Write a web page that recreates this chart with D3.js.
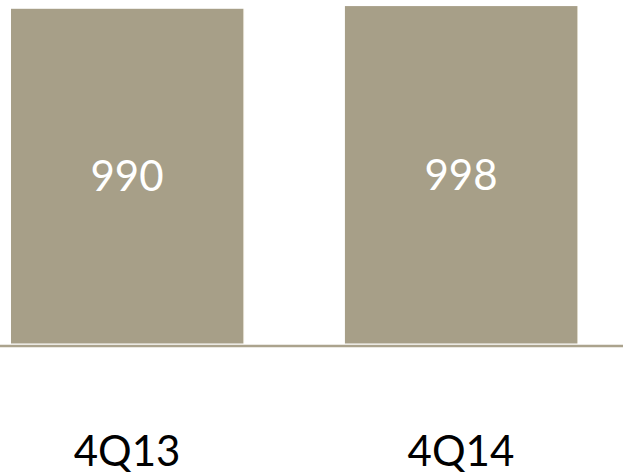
<!DOCTYPE html>
<html>
<head>
<meta charset="utf-8">
<script src="https://cdn.jsdelivr.net/npm/d3@7"></script>
<style>
  html, body { margin: 0; padding: 0; background: #ffffff; }
  svg { display: block; }
</style>
</head>
<body>
<script>
// Quarter-end totals
const categories = ["4Q13", "4Q14"];
const values = [990, 998];

const width = 623, height = 476;
const barColor = "#a79f88";

const svg = d3.select("body").append("svg")
  .attr("width", width)
  .attr("height", height);

const x = d3.scaleBand()
  .domain(categories)
  .range([11, 577])
  .paddingInner(0.305)
  .paddingOuter(0);

const y = d3.scaleLinear()
  .domain([0, 1016])
  .range([343.5, 0]);

// Bars
svg.selectAll("rect.bar")
  .data(values)
  .join("rect")
  .attr("class", "bar")
  .attr("x", (d, i) => x(categories[i]))
  .attr("y", d => y(d))
  .attr("width", x.bandwidth())
  .attr("height", d => y(0) - y(d))
  .attr("fill", barColor);

// Thin light edge on the right side of each bar
svg.selectAll("line.edge")
  .data(values)
  .join("line")
  .attr("class", "edge")
  .attr("x1", (d, i) => x(categories[i]) + x.bandwidth() + 0.5)
  .attr("x2", (d, i) => x(categories[i]) + x.bandwidth() + 0.5)
  .attr("y1", d => y(d))
  .attr("y2", y(0))
  .attr("stroke", "#ddd8c9")
  .attr("stroke-width", 1);

// Value labels inside bars
svg.selectAll("text.value")
  .data(values)
  .join("text")
  .attr("class", "value")
  .attr("x", (d, i) => x(categories[i]) + x.bandwidth() / 2)
  .attr("y", d => (y(d) + y(0)) / 2 + 15)
  .attr("text-anchor", "middle")
  .attr("font-family", "Lato, 'Open Sans', sans-serif")
  .attr("font-size", 42)
  .attr("fill", "#ffffff")
  .text(d => d);

// Baseline
const axis = d3.axisBottom(x).tickSize(0).tickPadding(0);
const axisG = svg.append("g")
  .attr("transform", `translate(0, ${y(0) + 2.5})`)
  .call(axis);
axisG.select(".domain").remove();
axisG.append("line")
  .attr("x1", 0).attr("x2", width)
  .attr("y1", 0).attr("y2", 0)
  .attr("stroke", "#aba38d")
  .attr("stroke-width", 2.5);

// Category labels
axisG.selectAll(".tick text")
  .attr("y", 466 - (y(0) + 2.5))
  .attr("dy", 0)
  .attr("font-family", "Lato, 'Open Sans', sans-serif")
  .attr("font-size", 42)
  .attr("fill", "#000000");
</script>
</body>
</html>
